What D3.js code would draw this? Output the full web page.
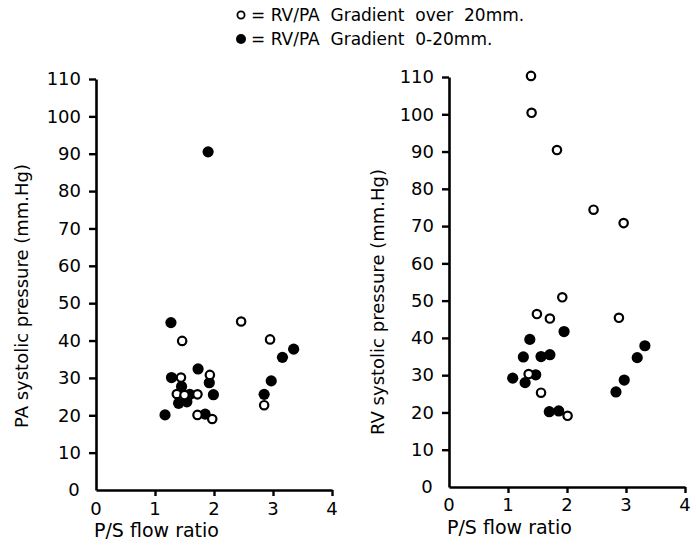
<!DOCTYPE html>
<html><head><meta charset="utf-8">
<script src="https://cdn.jsdelivr.net/npm/d3@7"></script>
<style>
body{margin:0;background:#fff;}
svg{display:block;}
text{font-family:"DejaVu Sans",sans-serif;fill:#000;white-space:pre;}
</style></head>
<body>
<script>
// ---- data ----
const xTicks = [0, 1, 2, 3, 4];
const yTicks = [0, 10, 20, 30, 40, 50, 60, 70, 80, 90, 100, 110];
const legendLabels = ["= RV/PA  Gradient  over  20mm.", "= RV/PA  Gradient  0-20mm."];
const yTitles = ["PA systolic pressure (mm.Hg)", "RV systolic pressure (mm.Hg)"];
const xTitle = "P/S flow ratio";

// PA panel, gradient over 20 (open)
const paOverX = [2.46, 2.95, 2.85, 1.46, 1.44, 1.93, 1.37, 1.50, 1.72, 1.72, 1.97];
const paOverY = [45.1, 40.3, 22.7, 39.9, 30.1, 30.8, 25.7, 25.4, 25.6, 20.1, 19.0];
// PA panel, gradient 0-20 (filled)
const paLowX = [1.27, 3.35, 3.16, 2.97, 2.85, 1.90, 1.73, 1.28, 1.92, 1.99, 1.59, 1.45, 1.40, 1.54, 1.17, 1.85];
const paLowY = [44.8, 37.7, 35.5, 29.2, 25.6, 90.5, 32.4, 30.1, 28.7, 25.5, 25.6, 27.7, 23.2, 23.6, 20.1, 20.3];
// RV panel, gradient over 20 (open)
const rvOverX = [1.39, 1.40, 1.83, 2.45, 2.96, 1.92, 1.49, 1.71, 2.88, 1.35, 1.56, 2.01];
const rvOverY = [110.3, 100.4, 90.4, 74.4, 70.8, 50.9, 46.4, 45.2, 45.4, 30.3, 25.3, 19.1];
// RV panel, gradient 0-20 (filled)
const rvLowX = [1.95, 1.37, 3.32, 1.26, 1.56, 1.71, 3.19, 1.08, 1.47, 1.29, 2.97, 2.83, 1.70, 1.86];
const rvLowY = [41.7, 39.6, 37.9, 34.9, 35.0, 35.5, 34.7, 29.2, 30.1, 28.0, 28.7, 25.5, 20.2, 20.4];

// ---- layout ----
const W = 696, H = 548;
const svg = d3.select("body").append("svg").attr("width", W).attr("height", H);

const panels = [
  {x0: 96, x1: 332, y0: 490, y1: 79, titleX: 22, titleY: 296, xLabY: 509, xTitleY: 530,
   open: [paOverX, paOverY], filled: [paLowX, paLowY], title: yTitles[0]},
  {x0: 449, x1: 685, y0: 487, y1: 77, titleX: 378, titleY: 302, xLabY: 505, xTitleY: 527,
   open: [rvOverX, rvOverY], filled: [rvLowX, rvLowY], title: yTitles[1]}
];

panels.forEach(p => {
  const x = d3.scaleLinear().domain([0, 4]).range([p.x0, p.x1]);
  const y = d3.scaleLinear().domain([0, 110]).range([p.y0, p.y1]);
  const g = svg.append("g");

  // y axis
  const ya = g.append("g").attr("transform", `translate(${p.x0},0)`)
    .call(d3.axisLeft(y).tickValues(yTicks).tickSize(7).tickSizeOuter(0).tickPadding(8)
      .tickFormat(d => d === 0 ? "" : d));
  ya.select(".domain").attr("stroke", "#000").attr("stroke-width", 2.6);
  ya.selectAll(".tick line").attr("stroke", "#000").attr("stroke-width", 2.4)
    .style("display", d => d === 0 ? "none" : null);
  ya.selectAll(".tick text").style("font-size", "18px").attr("font-family", "DejaVu Sans");
  // the y "0" label sits left of the corner
  g.append("text").attr("x", p.x0 - 22).attr("y", y(0)).attr("dy", "0.35em")
    .attr("text-anchor", "middle").style("font-size", "18px").text("0");

  // x axis
  const xa = g.append("g").attr("transform", `translate(0,${p.y0})`)
    .call(d3.axisBottom(x).tickValues(xTicks).tickSize(6).tickSizeOuter(0).tickFormat(""));
  xa.select(".domain").attr("stroke", "#000").attr("stroke-width", 2.6);
  xa.selectAll(".tick line").attr("stroke", "#000").attr("stroke-width", 2.4)
    .style("display", d => d === 0 ? "none" : null);
  g.selectAll(".xl").data(xTicks).join("text")
    .attr("x", d => x(d)).attr("y", p.xLabY).attr("dy", "0.35em")
    .attr("text-anchor", "middle").style("font-size", "18px").text(d => d);
  g.append("text").attr("x", p.x0 - 2).attr("y", p.xTitleY).attr("dy", "0.35em")
    .style("font-size", "19px").text(xTitle);

  // y title
  g.append("text").attr("transform", `translate(${p.titleX},${p.titleY}) rotate(-90)`)
    .attr("text-anchor", "middle").attr("dy", "0.35em").style("font-size", "18px").text(p.title);

  // points: filled first, open on top
  const fd = p.filled[0].map((v, i) => [v, p.filled[1][i]]);
  g.selectAll(".f").data(fd).join("circle")
    .attr("cx", d => x(d[0])).attr("cy", d => y(d[1])).attr("r", 5.6).attr("fill", "#000");
  const od = p.open[0].map((v, i) => [v, p.open[1][i]]);
  g.selectAll(".o").data(od).join("circle")
    .attr("cx", d => x(d[0])).attr("cy", d => y(d[1])).attr("r", 4.2)
    .attr("fill", "#fff").attr("stroke", "#000").attr("stroke-width", 2.2);
});

// legend
const leg = svg.append("g");
leg.append("circle").attr("cx", 241).attr("cy", 15).attr("r", 3.6)
  .attr("fill", "#fff").attr("stroke", "#000").attr("stroke-width", 1.8);
leg.append("circle").attr("cx", 241).attr("cy", 39).attr("r", 5).attr("fill", "#000");
leg.selectAll(".lt").data(legendLabels).join("text")
  .attr("x", 251).attr("y", (d, i) => 15 + i * 24).attr("dy", "0.35em")
  .style("font-size", "17px").text(d => d);
</script>
</body></html>
